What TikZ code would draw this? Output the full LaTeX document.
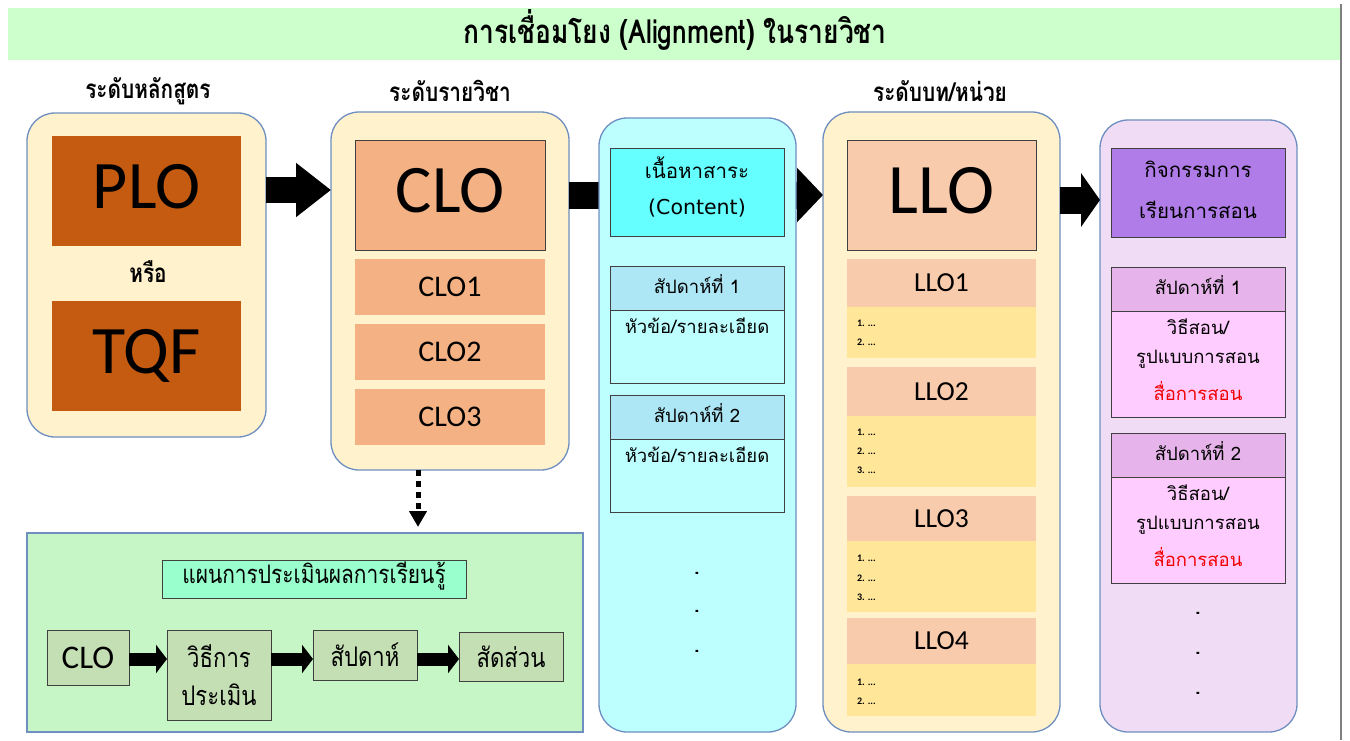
\documentclass[tikz,border=0pt]{standalone}
\usepackage{fontspec}
\setmainfont{Carlito}
\newfontfamily\thf[Script=Thai]{Loma}
\newfontfamily\dvs{DejaVu Sans}
\usetikzlibrary{arrows.meta}
\definecolor{titlegreen}{HTML}{CCFFCC}
\definecolor{cream}{HTML}{FFF2CC}
\definecolor{colborder}{HTML}{6F8FC0}
\definecolor{plofill}{HTML}{C55A11}
\definecolor{clofill}{HTML}{F4B183}
\definecolor{cyancol}{HTML}{BDFFFF}
\definecolor{cyanhead}{HTML}{66FFFF}
\definecolor{wkhead}{HTML}{ADE6F5}
\definecolor{llofill}{HTML}{F8CBAD}
\definecolor{llobody}{HTML}{FFE699}
\definecolor{lavcol}{HTML}{F0DCF4}
\definecolor{purphead}{HTML}{B07CE8}
\definecolor{actwk}{HTML}{E6B4EA}
\definecolor{actbody}{HTML}{FFCCFF}
\definecolor{botgreen}{HTML}{C6F6C6}
\definecolor{mint}{HTML}{99FFCC}
\definecolor{smgreen}{HTML}{C5DFB4}
\definecolor{boxline}{HTML}{404040}
\definecolor{redtxt}{HTML}{F00000}
\newcommand\B[7]{\node[#1, minimum width={#4-#2}, minimum height={#5-#3}] (#6) at ({(#2+#4)/2},{(#3+#5)/2}) {#7};}
\newcommand\cond[2][0.8]{\scalebox{#1}[1]{#2}}
\begin{document}
\begin{tikzpicture}[x=1pt,y=-1pt,
  every node/.style={inner sep=0pt, outer sep=0pt, text=black},
  col/.style={rectangle, rounded corners=28pt, draw=colborder, line width=1.3pt},
  bx/.style={rectangle, draw=boxline, line width=1pt},
  flat/.style={rectangle},
  big/.style={font=\fontsize{68}{72}\selectfont, text depth=9pt},
  mid/.style={font=\fontsize{30}{34}\selectfont},
  llotxt/.style={font=\fontsize{27.5}{30}\selectfont},
  item/.style={font=\bfseries\fontsize{10}{12}\selectfont, anchor=west},
  th/.style={font=\thf\fontsize{18.5}{22}\selectfont},
  thw/.style={font=\thf\fontsize{18.5}{22}\selectfont, text depth=9pt},
  thh/.style={font=\thf\fontsize{20.5}{24}\selectfont},
  thb/.style={font=\thf\bfseries\fontsize{26}{30}\selectfont},
  thc/.style={font=\thf\fontsize{27}{38}\selectfont, align=center},
  blk/.style={draw=black},
  dotitem/.style={font=\thf\bfseries\fontsize{20}{24}\selectfont, anchor=base}
]
\path[use as bounding box, fill=white] (0,0) rectangle (1350,740);

% title band
\B{flat, fill=titlegreen}{8}{8}{1341}{60}{band}{}
\node[font=\thf\bfseries\fontsize{33}{36}\selectfont] (title) at (675,30) {\cond{การเชื่อมโยง (Alignment) ในรายวิชา}};
\draw[line width=1.2pt, draw=gray] (1341,4) -- (1341,740);

% level labels
\node[thb] (lab1) at (148,91) {\cond{ระดับหลักสูตร}};
\node[thb] (lab2) at (450,91) {\cond{ระดับรายวิชา}};
\node[thb] (lab3) at (940,91) {\cond{ระดับบท/หน่วย}};

% columns
\B{col, fill=cream}{27}{113}{266}{437}{c1}{}
\B{col, fill=cream}{331}{112}{569}{470}{c2}{}
\B{col, fill=cream}{823}{112}{1060}{732}{c4}{}
\B{col, fill=lavcol}{1100}{120}{1297}{732}{c5}{}

% big arrows
\coordinate (ya) at (0,190);
\coordinate (yb) at (0,195);
\coordinate (yc) at (0,200);
\draw[blk, line width=26pt, -{Triangle[length=35pt,width=52pt]}] (c1.east |- ya) -- (c2.west |- ya);
\draw[blk, line width=27pt, -{Triangle[length=26pt,width=53pt]}] (c2.east |- yb) -- (c4.west |- yb);
\draw[blk, line width=27pt, -{Triangle[length=19pt,width=53pt]}] (c4.east |- yc) -- (c5.west |- yc);

% content column (drawn over arrow 2)
\B{col, fill=cyancol}{599}{118}{796}{732}{c3}{}

% column 1
\B{flat, fill=plofill, big}{52}{136}{241}{246}{plo}{PLO}
\node[thb] (or) at (148,272) {\cond{หรือ}};
\B{flat, fill=plofill, big}{52}{301}{241}{411}{tqf}{TQF}

% column 2
\B{bx, fill=clofill, big}{355}{140}{545}{250}{clo}{CLO}
\B{flat, fill=clofill, mid}{355}{259}{545}{315}{clo1}{CLO1}
\B{flat, fill=clofill, mid}{355}{324}{545}{380}{clo2}{CLO2}
\B{flat, fill=clofill, mid}{355}{389}{545}{445}{clo3}{CLO3}

% content column
\B{bx, fill=cyanhead}{610}{148}{784}{236}{ct}{}
\node[thh] (ct1) at (697,168) {เนื้อหาสาระ};
\node[font=\dvs\fontsize{20.5}{24}\selectfont] (ct2) at (697,208) {(Content)};
\B{bx, fill=wkhead, thw}{610}{266}{784}{310}{w1h}{สัปดาห์ที่ 1}
\B{bx, fill=cyancol}{610}{310}{784}{383}{w1b}{}
\node[th] (w1t) at (697,326) {หัวข้อ/รายละเอียด};
\B{bx, fill=wkhead, thw}{610}{395}{784}{439}{w2h}{สัปดาห์ที่ 2}
\B{bx, fill=cyancol}{610}{439}{784}{512}{w2b}{}
\node[th] (w2t) at (697,455) {หัวข้อ/รายละเอียด};
\node[dotitem] (cd1) at (697,574) {.};
\node[dotitem] (cd2) at (697,612) {.};
\node[dotitem] (cd3) at (697,652) {.};

% LLO column
\B{bx, fill=llofill, big, font=\fontsize{71}{74}\selectfont}{847}{140}{1036}{250}{llo}{LLO}
\B{flat, fill=llofill, llotxt}{847}{259}{1036}{307}{llo1}{LLO1}
\B{flat, fill=llobody}{847}{307}{1036}{358}{llo1b}{}
\node[item] (i11) at (857,323) {1. ...};
\node[item] (i12) at (857,342) {2. ...};
\B{flat, fill=llofill, llotxt}{847}{367}{1036}{416}{llo2}{LLO2}
\B{flat, fill=llobody}{847}{416}{1036}{487}{llo2b}{}
\node[item] (i21) at (857,432) {1. ...};
\node[item] (i22) at (857,451) {2. ...};
\node[item] (i23) at (857,470) {3. ...};
\B{flat, fill=llofill, llotxt}{847}{496}{1036}{541}{llo3}{LLO3}
\B{flat, fill=llobody}{847}{541}{1036}{612}{llo3b}{}
\node[item] (i31) at (857,558) {1. ...};
\node[item] (i32) at (857,578) {2. ...};
\node[item] (i33) at (857,597) {3. ...};
\B{flat, fill=llofill, llotxt}{847}{618}{1036}{664}{llo4}{LLO4}
\B{flat, fill=llobody}{847}{664}{1036}{716}{llo4b}{}
\node[item] (i41) at (857,682) {1. ...};
\node[item] (i42) at (857,701) {2. ...};

% activity column
\B{bx, fill=purphead}{1111}{148}{1285}{237}{act}{}
\node[thh] (act1) at (1198,169) {กิจกรรมการ};
\node[thh] (act2) at (1198,210) {เรียนการสอน};
\B{bx, fill=actwk, thw}{1111}{267}{1285}{311}{a1h}{สัปดาห์ที่ 1}
\B{bx, fill=actbody}{1111}{311}{1285}{417}{a1b}{}
\node[th] (a1t1) at (1198,327) {วิธีสอน/};
\node[th] (a1t2) at (1198,359) {รูปแบบการสอน};
\node[th, text=redtxt] (a1t3) at (1198,391) {สื่อการสอน};
\B{bx, fill=actwk, thw}{1111}{433}{1285}{477}{a2h}{สัปดาห์ที่ 2}
\B{bx, fill=actbody}{1111}{477}{1285}{583}{a2b}{}
\node[th] (a2t1) at (1198,493) {วิธีสอน/};
\node[th] (a2t2) at (1198,525) {รูปแบบการสอน};
\node[th, text=redtxt] (a2t3) at (1198,557) {สื่อการสอน};
\node[dotitem] (ad1) at (1198,614) {.};
\node[dotitem] (ad2) at (1198,654) {.};
\node[dotitem] (ad3) at (1198,694) {.};

% assessment plan
\B{rectangle, draw=colborder, line width=1.3pt, fill=botgreen}{27}{533}{583}{732}{bot}{}
\coordinate (xd) at (418,0);
\draw[blk, line width=5pt, dash pattern=on 6pt off 5pt, -{Triangle[length=16pt,width=17pt]}, shorten >=6pt] (c2.south -| xd) -- (bot.north -| xd);
\B{bx, fill=mint}{162}{560}{466}{598}{bt}{}
\node[font=\thf\fontsize{25.5}{30}\selectfont] (btt) at (314,576) {\cond[0.82]{แผนการประเมินผลการเรียนรู้}};
\B{bx, fill=smgreen, font=\fontsize{33}{36}\selectfont}{47}{630}{129}{685}{b1}{CLO}
\B{bx, fill=smgreen, thc}{167}{630}{271}{720}{b2}{\cond[0.82]{วิธีการ}\\\cond[0.82]{ประเมิน}}
\B{bx, fill=smgreen, thc}{313}{630}{417}{680}{b3}{\cond[0.82]{สัปดาห์}}
\B{bx, fill=smgreen, thc}{459}{632}{563}{681}{b4}{\cond[0.82]{สัดส่วน}}
\coordinate (ys) at (0,659);
\draw[blk, line width=13pt, -{Triangle[length=11pt,width=28pt]}] (b1.east |- ys) -- (b2.west |- ys);
\draw[blk, line width=13pt, -{Triangle[length=11pt,width=28pt]}] (b2.east |- ys) -- (b3.west |- ys);
\draw[blk, line width=13pt, -{Triangle[length=11pt,width=28pt]}] (b3.east |- ys) -- (b4.west |- ys);
\end{tikzpicture}
\end{document}
